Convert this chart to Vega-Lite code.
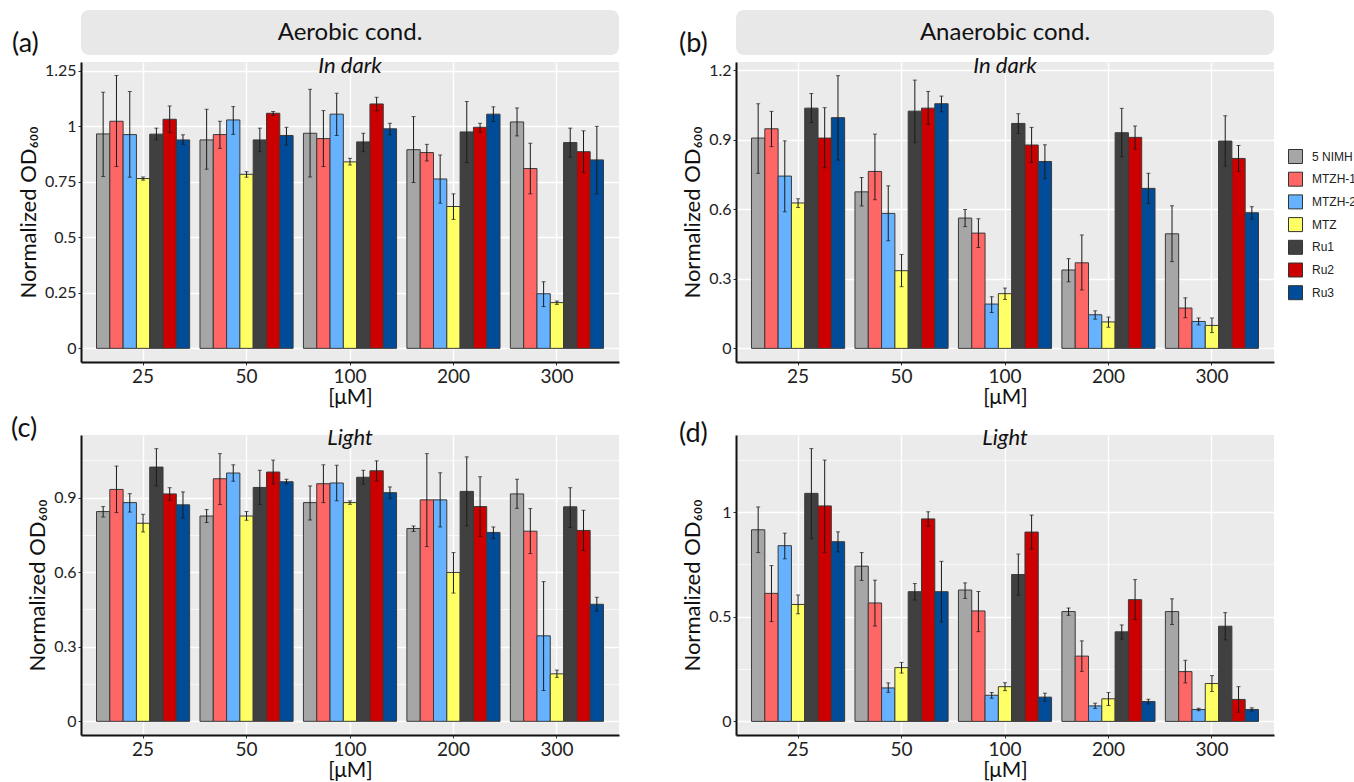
{
  "$schema": "https://vega.github.io/schema/vega-lite/v6.json",
  "background": "white",
  "padding": {"left": 11, "top": 10, "right": 2, "bottom": 2},
  "autosize": {"type": "pad"},
  "config": {"font": "Lato", "view": {"stroke": null}},
  "datasets": {
    "a": [
      {"c":"25","s":"5 NIMH","v":0.966,"lo":0.774,"hi":1.154},
      {"c":"25","s":"MTZH-1","v":1.023,"lo":0.819,"hi":1.229},
      {"c":"25","s":"MTZH-2","v":0.963,"lo":0.771,"hi":1.157},
      {"c":"25","s":"MTZ","v":0.765,"lo":0.758,"hi":0.772},
      {"c":"25","s":"Ru1","v":0.965,"lo":0.939,"hi":0.992},
      {"c":"25","s":"Ru2","v":1.032,"lo":0.972,"hi":1.092},
      {"c":"25","s":"Ru3","v":0.939,"lo":0.919,"hi":0.962},
      {"c":"50","s":"5 NIMH","v":0.939,"lo":0.807,"hi":1.077},
      {"c":"50","s":"MTZH-1","v":0.963,"lo":0.901,"hi":1.023},
      {"c":"50","s":"MTZH-2","v":1.029,"lo":0.964,"hi":1.089},
      {"c":"50","s":"MTZ","v":0.784,"lo":0.771,"hi":0.796},
      {"c":"50","s":"Ru1","v":0.939,"lo":0.886,"hi":0.992},
      {"c":"50","s":"Ru2","v":1.059,"lo":1.049,"hi":1.067},
      {"c":"50","s":"Ru3","v":0.959,"lo":0.916,"hi":0.996},
      {"c":"100","s":"5 NIMH","v":0.969,"lo":0.772,"hi":1.167},
      {"c":"100","s":"MTZH-1","v":0.945,"lo":0.819,"hi":1.071},
      {"c":"100","s":"MTZH-2","v":1.055,"lo":0.959,"hi":1.149},
      {"c":"100","s":"MTZ","v":0.840,"lo":0.826,"hi":0.856},
      {"c":"100","s":"Ru1","v":0.930,"lo":0.886,"hi":0.969},
      {"c":"100","s":"Ru2","v":1.101,"lo":1.070,"hi":1.131},
      {"c":"100","s":"Ru3","v":0.989,"lo":0.962,"hi":1.014},
      {"c":"200","s":"5 NIMH","v":0.895,"lo":0.747,"hi":1.044},
      {"c":"200","s":"MTZH-1","v":0.882,"lo":0.844,"hi":0.919},
      {"c":"200","s":"MTZH-2","v":0.763,"lo":0.654,"hi":0.871},
      {"c":"200","s":"MTZ","v":0.639,"lo":0.581,"hi":0.696},
      {"c":"200","s":"Ru1","v":0.975,"lo":0.837,"hi":1.112},
      {"c":"200","s":"Ru2","v":0.996,"lo":0.974,"hi":1.014},
      {"c":"200","s":"Ru3","v":1.055,"lo":1.022,"hi":1.088},
      {"c":"300","s":"5 NIMH","v":1.020,"lo":0.957,"hi":1.083},
      {"c":"300","s":"MTZH-1","v":0.810,"lo":0.696,"hi":0.924},
      {"c":"300","s":"MTZH-2","v":0.246,"lo":0.188,"hi":0.300},
      {"c":"300","s":"MTZ","v":0.206,"lo":0.198,"hi":0.213},
      {"c":"300","s":"Ru1","v":0.927,"lo":0.861,"hi":0.992},
      {"c":"300","s":"Ru2","v":0.886,"lo":0.792,"hi":0.980},
      {"c":"300","s":"Ru3","v":0.849,"lo":0.696,"hi":1.000}
    ],
    "b": [
      {"c":"25","s":"5 NIMH","v":0.907,"lo":0.755,"hi":1.055},
      {"c":"25","s":"MTZH-1","v":0.947,"lo":0.870,"hi":1.022},
      {"c":"25","s":"MTZH-2","v":0.743,"lo":0.589,"hi":0.895},
      {"c":"25","s":"MTZ","v":0.627,"lo":0.608,"hi":0.645},
      {"c":"25","s":"Ru1","v":1.036,"lo":0.974,"hi":1.099},
      {"c":"25","s":"Ru2","v":0.907,"lo":0.779,"hi":1.038},
      {"c":"25","s":"Ru3","v":0.995,"lo":0.812,"hi":1.176},
      {"c":"50","s":"5 NIMH","v":0.675,"lo":0.614,"hi":0.737},
      {"c":"50","s":"MTZH-1","v":0.763,"lo":0.641,"hi":0.924},
      {"c":"50","s":"MTZH-2","v":0.582,"lo":0.464,"hi":0.701},
      {"c":"50","s":"MTZ","v":0.335,"lo":0.266,"hi":0.405},
      {"c":"50","s":"Ru1","v":1.023,"lo":0.887,"hi":1.157},
      {"c":"50","s":"Ru2","v":1.036,"lo":0.966,"hi":1.108},
      {"c":"50","s":"Ru3","v":1.055,"lo":1.020,"hi":1.088},
      {"c":"100","s":"5 NIMH","v":0.562,"lo":0.525,"hi":0.599},
      {"c":"100","s":"MTZH-1","v":0.497,"lo":0.435,"hi":0.559},
      {"c":"100","s":"MTZH-2","v":0.191,"lo":0.155,"hi":0.223},
      {"c":"100","s":"MTZ","v":0.236,"lo":0.211,"hi":0.260},
      {"c":"100","s":"Ru1","v":0.970,"lo":0.927,"hi":1.012},
      {"c":"100","s":"Ru2","v":0.877,"lo":0.802,"hi":0.953},
      {"c":"100","s":"Ru3","v":0.806,"lo":0.733,"hi":0.878},
      {"c":"200","s":"5 NIMH","v":0.338,"lo":0.287,"hi":0.387},
      {"c":"200","s":"MTZH-1","v":0.369,"lo":0.252,"hi":0.489},
      {"c":"200","s":"MTZH-2","v":0.145,"lo":0.126,"hi":0.162},
      {"c":"200","s":"MTZ","v":0.114,"lo":0.091,"hi":0.135},
      {"c":"200","s":"Ru1","v":0.930,"lo":0.826,"hi":1.035},
      {"c":"200","s":"Ru2","v":0.910,"lo":0.859,"hi":0.959},
      {"c":"200","s":"Ru3","v":0.690,"lo":0.625,"hi":0.755},
      {"c":"300","s":"5 NIMH","v":0.494,"lo":0.374,"hi":0.615},
      {"c":"300","s":"MTZH-1","v":0.174,"lo":0.132,"hi":0.218},
      {"c":"300","s":"MTZH-2","v":0.116,"lo":0.101,"hi":0.131},
      {"c":"300","s":"MTZ","v":0.099,"lo":0.068,"hi":0.131},
      {"c":"300","s":"Ru1","v":0.894,"lo":0.786,"hi":1.003},
      {"c":"300","s":"Ru2","v":0.819,"lo":0.763,"hi":0.875},
      {"c":"300","s":"Ru3","v":0.585,"lo":0.558,"hi":0.611}
    ],
    "c": [
      {"c":"25","s":"5 NIMH","v":0.844,"lo":0.822,"hi":0.864},
      {"c":"25","s":"MTZH-1","v":0.933,"lo":0.840,"hi":1.027},
      {"c":"25","s":"MTZH-2","v":0.880,"lo":0.842,"hi":0.916},
      {"c":"25","s":"MTZ","v":0.797,"lo":0.762,"hi":0.833},
      {"c":"25","s":"Ru1","v":1.023,"lo":0.947,"hi":1.097},
      {"c":"25","s":"Ru2","v":0.915,"lo":0.889,"hi":0.940},
      {"c":"25","s":"Ru3","v":0.871,"lo":0.818,"hi":0.923},
      {"c":"50","s":"5 NIMH","v":0.826,"lo":0.800,"hi":0.852},
      {"c":"50","s":"MTZH-1","v":0.976,"lo":0.872,"hi":1.077},
      {"c":"50","s":"MTZH-2","v":0.999,"lo":0.966,"hi":1.032},
      {"c":"50","s":"MTZ","v":0.826,"lo":0.809,"hi":0.844},
      {"c":"50","s":"Ru1","v":0.941,"lo":0.872,"hi":1.010},
      {"c":"50","s":"Ru2","v":1.003,"lo":0.955,"hi":1.051},
      {"c":"50","s":"Ru3","v":0.964,"lo":0.955,"hi":0.974},
      {"c":"100","s":"5 NIMH","v":0.880,"lo":0.810,"hi":0.947},
      {"c":"100","s":"MTZH-1","v":0.956,"lo":0.880,"hi":1.032},
      {"c":"100","s":"MTZH-2","v":0.959,"lo":0.887,"hi":1.030},
      {"c":"100","s":"MTZ","v":0.880,"lo":0.873,"hi":0.887},
      {"c":"100","s":"Ru1","v":0.982,"lo":0.954,"hi":1.010},
      {"c":"100","s":"Ru2","v":1.008,"lo":0.967,"hi":1.048},
      {"c":"100","s":"Ru3","v":0.920,"lo":0.897,"hi":0.943},
      {"c":"200","s":"5 NIMH","v":0.776,"lo":0.764,"hi":0.786},
      {"c":"200","s":"MTZH-1","v":0.891,"lo":0.703,"hi":1.077},
      {"c":"200","s":"MTZH-2","v":0.891,"lo":0.782,"hi":1.000},
      {"c":"200","s":"MTZ","v":0.599,"lo":0.516,"hi":0.679},
      {"c":"200","s":"Ru1","v":0.925,"lo":0.786,"hi":1.064},
      {"c":"200","s":"Ru2","v":0.864,"lo":0.744,"hi":0.984},
      {"c":"200","s":"Ru3","v":0.760,"lo":0.735,"hi":0.782},
      {"c":"300","s":"5 NIMH","v":0.915,"lo":0.857,"hi":0.974},
      {"c":"300","s":"MTZH-1","v":0.765,"lo":0.675,"hi":0.856},
      {"c":"300","s":"MTZH-2","v":0.344,"lo":0.124,"hi":0.562},
      {"c":"300","s":"MTZ","v":0.191,"lo":0.177,"hi":0.206},
      {"c":"300","s":"Ru1","v":0.863,"lo":0.780,"hi":0.940},
      {"c":"300","s":"Ru2","v":0.768,"lo":0.687,"hi":0.849},
      {"c":"300","s":"Ru3","v":0.471,"lo":0.443,"hi":0.499}
    ],
    "d": [
      {"c":"25","s":"5 NIMH","v":0.916,"lo":0.807,"hi":1.025},
      {"c":"25","s":"MTZH-1","v":0.612,"lo":0.477,"hi":0.745},
      {"c":"25","s":"MTZH-2","v":0.840,"lo":0.777,"hi":0.900},
      {"c":"25","s":"MTZ","v":0.559,"lo":0.515,"hi":0.604},
      {"c":"25","s":"Ru1","v":1.090,"lo":0.873,"hi":1.304},
      {"c":"25","s":"Ru2","v":1.030,"lo":0.808,"hi":1.249},
      {"c":"25","s":"Ru3","v":0.859,"lo":0.810,"hi":0.906},
      {"c":"50","s":"5 NIMH","v":0.742,"lo":0.674,"hi":0.807},
      {"c":"50","s":"MTZH-1","v":0.566,"lo":0.456,"hi":0.675},
      {"c":"50","s":"MTZH-2","v":0.160,"lo":0.139,"hi":0.184},
      {"c":"50","s":"MTZ","v":0.257,"lo":0.231,"hi":0.282},
      {"c":"50","s":"Ru1","v":0.620,"lo":0.580,"hi":0.659},
      {"c":"50","s":"Ru2","v":0.968,"lo":0.933,"hi":1.002},
      {"c":"50","s":"Ru3","v":0.620,"lo":0.475,"hi":0.765},
      {"c":"100","s":"5 NIMH","v":0.628,"lo":0.588,"hi":0.662},
      {"c":"100","s":"MTZH-1","v":0.528,"lo":0.429,"hi":0.621},
      {"c":"100","s":"MTZH-2","v":0.125,"lo":0.111,"hi":0.138},
      {"c":"100","s":"MTZ","v":0.166,"lo":0.147,"hi":0.185},
      {"c":"100","s":"Ru1","v":0.702,"lo":0.604,"hi":0.800},
      {"c":"100","s":"Ru2","v":0.905,"lo":0.824,"hi":0.986},
      {"c":"100","s":"Ru3","v":0.116,"lo":0.097,"hi":0.135},
      {"c":"200","s":"5 NIMH","v":0.525,"lo":0.507,"hi":0.542},
      {"c":"200","s":"MTZH-1","v":0.312,"lo":0.239,"hi":0.385},
      {"c":"200","s":"MTZH-2","v":0.074,"lo":0.062,"hi":0.087},
      {"c":"200","s":"MTZ","v":0.108,"lo":0.076,"hi":0.138},
      {"c":"200","s":"Ru1","v":0.428,"lo":0.393,"hi":0.461},
      {"c":"200","s":"Ru2","v":0.582,"lo":0.487,"hi":0.678},
      {"c":"200","s":"Ru3","v":0.095,"lo":0.084,"hi":0.106},
      {"c":"300","s":"5 NIMH","v":0.525,"lo":0.463,"hi":0.586},
      {"c":"300","s":"MTZH-1","v":0.238,"lo":0.184,"hi":0.292},
      {"c":"300","s":"MTZH-2","v":0.057,"lo":0.051,"hi":0.063},
      {"c":"300","s":"MTZ","v":0.181,"lo":0.143,"hi":0.219},
      {"c":"300","s":"Ru1","v":0.455,"lo":0.390,"hi":0.520},
      {"c":"300","s":"Ru2","v":0.105,"lo":0.044,"hi":0.166},
      {"c":"300","s":"Ru3","v":0.057,"lo":0.049,"hi":0.065}
    ]
  },
  "bounds": "flush",
  "columns": 2,
  "spacing": {"row": 7, "column": 117},
  "resolve": {"legend": {"color": "independent"}},
  "concat": [
    {
      "width": 538, "height": 45,
      "view": {"fill": null, "stroke": null},
      "data": {"values": [{"t": "Aerobic cond.", "lab": "(a)"}]},
      "layer": [
        {"mark": {"type": "rect", "fill": "#E8E8E8", "cornerRadius": 8},
         "encoding": {
           "x": {"datum": 0, "type": "quantitative", "scale": {"domain": [0, 1], "nice": false, "zero": false}, "axis": null},
           "x2": {"datum": 1},
           "y": {"datum": 0, "type": "quantitative", "scale": {"domain": [0, 1], "nice": false, "zero": false}, "axis": null},
           "y2": {"datum": 1}}},
        {"mark": {"type": "text", "font": "Lato", "fontSize": 24, "color": "#111"},
         "encoding": {
           "text": {"field": "t"},
           "x": {"datum": 0.5, "type": "quantitative", "scale": {"domain": [0, 1], "nice": false, "zero": false}, "axis": null},
           "y": {"datum": 0.5, "type": "quantitative", "scale": {"domain": [0, 1], "nice": false, "zero": false}, "axis": null}}},
        {"mark": {"type": "text", "font": "Lato", "fontSize": 27, "align": "left", "baseline": "middle", "color": "#111"},
         "encoding": {
           "text": {"field": "lab"},
           "x": {"datum": -0.1283, "type": "quantitative", "scale": {"domain": [0, 1], "nice": false, "zero": false}, "axis": null},
           "y": {"datum": 0.24, "type": "quantitative", "scale": {"domain": [0, 1], "nice": false, "zero": false}, "axis": null}}}
      ]
    },
    {
      "width": 538, "height": 45,
      "view": {"fill": null, "stroke": null},
      "data": {"values": [{"t": "Anaerobic cond.", "lab": "(b)"}]},
      "layer": [
        {"mark": {"type": "rect", "fill": "#E8E8E8", "cornerRadius": 8},
         "encoding": {
           "x": {"datum": 0, "type": "quantitative", "scale": {"domain": [0, 1], "nice": false, "zero": false}, "axis": null},
           "x2": {"datum": 1},
           "y": {"datum": 0, "type": "quantitative", "scale": {"domain": [0, 1], "nice": false, "zero": false}, "axis": null},
           "y2": {"datum": 1}}},
        {"mark": {"type": "text", "font": "Lato", "fontSize": 24, "color": "#111"},
         "encoding": {
           "text": {"field": "t"},
           "x": {"datum": 0.5, "type": "quantitative", "scale": {"domain": [0, 1], "nice": false, "zero": false}, "axis": null},
           "y": {"datum": 0.5, "type": "quantitative", "scale": {"domain": [0, 1], "nice": false, "zero": false}, "axis": null}}},
        {"mark": {"type": "text", "font": "Lato", "fontSize": 27, "align": "left", "baseline": "middle", "color": "#111"},
         "encoding": {
           "text": {"field": "lab"},
           "x": {"datum": -0.106, "type": "quantitative", "scale": {"domain": [0, 1], "nice": false, "zero": false}, "axis": null},
           "y": {"datum": 0.24, "type": "quantitative", "scale": {"domain": [0, 1], "nice": false, "zero": false}, "axis": null}}}
      ]
    },
    {
      "width": 538, "height": 300,
      "view": {"fill": "#EBEBEB", "stroke": null},
      "data": {"name": "a"},
      "title": {"text": "In dark", "font": "Lato", "fontSize": 22, "fontStyle": "italic", "fontWeight": "normal", "color": "#111", "frame": "group", "anchor": "middle", "baseline": "alphabetic", "offset": -11, "dy": 22},
      "encoding": {
        "x": {"field": "c", "type": "ordinal", "sort": ["25","50","100","200","300"], "title": "[μM]",
              "scale": {"type": "band", "paddingInner": 0.1, "paddingOuter": 0.15},
              "axis": {"grid": true, "gridColor": "white", "gridWidth": 1.4, "bandPosition": 0.5, "labelAngle": 0, "labelFont": "Lato", "labelFontSize": 19, "labelColor": "#222", "labelPadding": 2, "tickSize": 3, "tickColor": "#333", "domainColor": "#111", "domainWidth": 2, "titleFont": "Lato", "titleFontSize": 21, "titleFontWeight": "normal", "titleColor": "#111", "titlePadding": 0}},
        "xOffset": {"field": "s", "type": "nominal", "sort": ["5 NIMH","MTZH-1","MTZH-2","MTZ","Ru1","Ru2","Ru3"], "scale": {"type": "band", "paddingInner": 0, "paddingOuter": 0}}
      },
      "layer": [
        {"mark": {"type": "bar", "stroke": "#3a3a3a", "strokeWidth": 1},
         "encoding": {
           "y": {"field": "v", "type": "quantitative", "title": "Normalized OD₆₀₀", "scale": {"domain": [-0.0615, 1.29], "nice": false, "zero": false},
                 "axis": {"values": [0,0.125,0.25,0.375,0.5,0.625,0.75,0.875,1,1.125,1.25],
                          "labelExpr": "indexof([0,0.25,0.5,0.75,1,1.25], datum.value) >= 0 ? format(datum.value, '~g') : ''",
                          "gridColor": "white",
                          "gridWidth": {"condition": {"test": "indexof([0,0.25,0.5,0.75,1,1.25], datum.value) >= 0", "value": 1.4}, "value": 0.7},
                          "tickOpacity": {"condition": {"test": "indexof([0,0.25,0.5,0.75,1,1.25], datum.value) >= 0", "value": 1}, "value": 0},
                          "labelFont": "Lato", "labelFontSize": 16, "labelColor": "#222", "labelPadding": 2, "tickSize": 3, "tickColor": "#333", "domainColor": "#111", "domainWidth": 2, "titleFont": "Lato", "titleFontSize": 22, "titleFontWeight": "normal", "titleColor": "#111"}},
           "color": {"field": "s", "type": "nominal", "scale": {"domain": ["5 NIMH","MTZH-1","MTZH-2","MTZ","Ru1","Ru2","Ru3"], "range": ["#A6A6A6","#FF6666","#66B2FF","#FFFF66","#404040","#CC0000","#004C99"]}, "legend": null}}},
        {"mark": {"type": "rule", "color": "#1a1a1a", "strokeWidth": 1},
         "encoding": {"y": {"field": "lo", "type": "quantitative", "title": "Normalized OD₆₀₀", "scale": {"domain": [-0.0615, 1.29], "nice": false, "zero": false}}, "y2": {"field": "hi"}}},
        {"mark": {"type": "tick", "color": "#1a1a1a", "thickness": 1, "size": 4},
         "encoding": {"y": {"field": "lo", "type": "quantitative", "title": "Normalized OD₆₀₀", "scale": {"domain": [-0.0615, 1.29], "nice": false, "zero": false}}}},
        {"mark": {"type": "tick", "color": "#1a1a1a", "thickness": 1, "size": 4},
         "encoding": {"y": {"field": "hi", "type": "quantitative", "title": "Normalized OD₆₀₀", "scale": {"domain": [-0.0615, 1.29], "nice": false, "zero": false}}}}
      ]
    },
    {
      "width": 538, "height": 300,
      "view": {"fill": "#EBEBEB", "stroke": null},
      "data": {"name": "b"},
      "title": {"text": "In dark", "font": "Lato", "fontSize": 22, "fontStyle": "italic", "fontWeight": "normal", "color": "#111", "frame": "group", "anchor": "middle", "baseline": "alphabetic", "offset": -11, "dy": 22},
      "encoding": {
        "x": {"field": "c", "type": "ordinal", "sort": ["25","50","100","200","300"], "title": "[μM]",
              "scale": {"type": "band", "paddingInner": 0.1, "paddingOuter": 0.15},
              "axis": {"grid": true, "gridColor": "white", "gridWidth": 1.4, "bandPosition": 0.5, "labelAngle": 0, "labelFont": "Lato", "labelFontSize": 19, "labelColor": "#222", "labelPadding": 2, "tickSize": 3, "tickColor": "#333", "domainColor": "#111", "domainWidth": 2, "titleFont": "Lato", "titleFontSize": 21, "titleFontWeight": "normal", "titleColor": "#111", "titlePadding": 0}},
        "xOffset": {"field": "s", "type": "nominal", "sort": ["5 NIMH","MTZH-1","MTZH-2","MTZ","Ru1","Ru2","Ru3"], "scale": {"type": "band", "paddingInner": 0, "paddingOuter": 0}}
      },
      "layer": [
        {"mark": {"type": "bar", "stroke": "#3a3a3a", "strokeWidth": 1},
         "encoding": {
           "y": {"field": "v", "type": "quantitative", "title": "Normalized OD₆₀₀", "scale": {"domain": [-0.0588, 1.235], "nice": false, "zero": false},
                 "axis": {"values": [0,0.15,0.3,0.45,0.6,0.75,0.9,1.05,1.2],
                          "labelExpr": "indexof([0,0.3,0.6,0.9,1.2], datum.value) >= 0 ? format(datum.value, '~g') : ''",
                          "gridColor": "white",
                          "gridWidth": {"condition": {"test": "indexof([0,0.3,0.6,0.9,1.2], datum.value) >= 0", "value": 1.4}, "value": 0.7},
                          "tickOpacity": {"condition": {"test": "indexof([0,0.3,0.6,0.9,1.2], datum.value) >= 0", "value": 1}, "value": 0},
                          "labelFont": "Lato", "labelFontSize": 16, "labelColor": "#222", "labelPadding": 2, "tickSize": 3, "tickColor": "#333", "domainColor": "#111", "domainWidth": 2, "titleFont": "Lato", "titleFontSize": 22, "titleFontWeight": "normal", "titleColor": "#111"}},
           "color": {"field": "s", "type": "nominal", "scale": {"domain": ["5 NIMH","MTZH-1","MTZH-2","MTZ","Ru1","Ru2","Ru3"], "range": ["#A6A6A6","#FF6666","#66B2FF","#FFFF66","#404040","#CC0000","#004C99"]},
                     "legend": {"orient": "none", "legendX": 552, "legendY": 87, "title": null, "symbolType": "square", "symbolSize": 196, "symbolStrokeColor": "#333", "symbolStrokeWidth": 1, "symbolOpacity": 1, "labelFont": "Liberation Sans", "labelFontSize": 12, "labelColor": "#222", "rowPadding": 3.7, "labelOffset": 9}}}},
        {"mark": {"type": "rule", "color": "#1a1a1a", "strokeWidth": 1},
         "encoding": {"y": {"field": "lo", "type": "quantitative", "title": "Normalized OD₆₀₀", "scale": {"domain": [-0.0588, 1.235], "nice": false, "zero": false}}, "y2": {"field": "hi"}}},
        {"mark": {"type": "tick", "color": "#1a1a1a", "thickness": 1, "size": 4},
         "encoding": {"y": {"field": "lo", "type": "quantitative", "title": "Normalized OD₆₀₀", "scale": {"domain": [-0.0588, 1.235], "nice": false, "zero": false}}}},
        {"mark": {"type": "tick", "color": "#1a1a1a", "thickness": 1, "size": 4},
         "encoding": {"y": {"field": "hi", "type": "quantitative", "title": "Normalized OD₆₀₀", "scale": {"domain": [-0.0588, 1.235], "nice": false, "zero": false}}}}
      ]
    },
    {
      "width": 538, "height": 59,
      "view": {"fill": null, "stroke": null},
      "data": {"values": [{"lab": "(c)"}]},
      "mark": {"type": "text", "font": "Lato", "fontSize": 27, "align": "left", "baseline": "middle", "color": "#111"},
      "encoding": {
        "text": {"field": "lab"},
        "x": {"datum": -0.13, "type": "quantitative", "scale": {"domain": [0, 1], "nice": false, "zero": false}, "axis": null},
        "y": {"datum": -0.02, "type": "quantitative", "scale": {"domain": [0, 1], "nice": false, "zero": false}, "axis": null}}
    },
    {
      "width": 538, "height": 59,
      "view": {"fill": null, "stroke": null},
      "data": {"values": [{"lab": "(d)"}]},
      "mark": {"type": "text", "font": "Lato", "fontSize": 27, "align": "left", "baseline": "middle", "color": "#111"},
      "encoding": {
        "text": {"field": "lab"},
        "x": {"datum": -0.106, "type": "quantitative", "scale": {"domain": [0, 1], "nice": false, "zero": false}, "axis": null},
        "y": {"datum": -0.1, "type": "quantitative", "scale": {"domain": [0, 1], "nice": false, "zero": false}, "axis": null}}
    },
    {
      "width": 538, "height": 300,
      "view": {"fill": "#EBEBEB", "stroke": null},
      "data": {"name": "c"},
      "title": {"text": "Light", "font": "Lato", "fontSize": 22, "fontStyle": "italic", "fontWeight": "normal", "color": "#111", "frame": "group", "anchor": "middle", "baseline": "alphabetic", "offset": -11, "dy": 21},
      "encoding": {
        "x": {"field": "c", "type": "ordinal", "sort": ["25","50","100","200","300"], "title": "[μM]",
              "scale": {"type": "band", "paddingInner": 0.1, "paddingOuter": 0.15},
              "axis": {"grid": true, "gridColor": "white", "gridWidth": 1.4, "bandPosition": 0.5, "labelAngle": 0, "labelFont": "Lato", "labelFontSize": 19, "labelColor": "#222", "labelPadding": 2, "tickSize": 3, "tickColor": "#333", "domainColor": "#111", "domainWidth": 2, "titleFont": "Lato", "titleFontSize": 21, "titleFontWeight": "normal", "titleColor": "#111", "titlePadding": 0}},
        "xOffset": {"field": "s", "type": "nominal", "sort": ["5 NIMH","MTZH-1","MTZH-2","MTZ","Ru1","Ru2","Ru3"], "scale": {"type": "band", "paddingInner": 0, "paddingOuter": 0}}
      },
      "layer": [
        {"mark": {"type": "bar", "stroke": "#3a3a3a", "strokeWidth": 1},
         "encoding": {
           "y": {"field": "v", "type": "quantitative", "title": "Normalized OD₆₀₀", "scale": {"domain": [-0.055, 1.152], "nice": false, "zero": false},
                 "axis": {"values": [0,0.15,0.3,0.45,0.6,0.75,0.9,1.05],
                          "labelExpr": "indexof([0,0.3,0.6,0.9], datum.value) >= 0 ? format(datum.value, '~g') : ''",
                          "gridColor": "white",
                          "gridWidth": {"condition": {"test": "indexof([0,0.3,0.6,0.9], datum.value) >= 0", "value": 1.4}, "value": 0.7},
                          "tickOpacity": {"condition": {"test": "indexof([0,0.3,0.6,0.9], datum.value) >= 0", "value": 1}, "value": 0},
                          "labelFont": "Lato", "labelFontSize": 16, "labelColor": "#222", "labelPadding": 2, "tickSize": 3, "tickColor": "#333", "domainColor": "#111", "domainWidth": 2, "titleFont": "Lato", "titleFontSize": 22, "titleFontWeight": "normal", "titleColor": "#111"}},
           "color": {"field": "s", "type": "nominal", "scale": {"domain": ["5 NIMH","MTZH-1","MTZH-2","MTZ","Ru1","Ru2","Ru3"], "range": ["#A6A6A6","#FF6666","#66B2FF","#FFFF66","#404040","#CC0000","#004C99"]}, "legend": null}}},
        {"mark": {"type": "rule", "color": "#1a1a1a", "strokeWidth": 1},
         "encoding": {"y": {"field": "lo", "type": "quantitative", "title": "Normalized OD₆₀₀", "scale": {"domain": [-0.055, 1.152], "nice": false, "zero": false}}, "y2": {"field": "hi"}}},
        {"mark": {"type": "tick", "color": "#1a1a1a", "thickness": 1, "size": 4},
         "encoding": {"y": {"field": "lo", "type": "quantitative", "title": "Normalized OD₆₀₀", "scale": {"domain": [-0.055, 1.152], "nice": false, "zero": false}}}},
        {"mark": {"type": "tick", "color": "#1a1a1a", "thickness": 1, "size": 4},
         "encoding": {"y": {"field": "hi", "type": "quantitative", "title": "Normalized OD₆₀₀", "scale": {"domain": [-0.055, 1.152], "nice": false, "zero": false}}}}
      ]
    },
    {
      "width": 538, "height": 300,
      "view": {"fill": "#EBEBEB", "stroke": null},
      "data": {"name": "d"},
      "title": {"text": "Light", "font": "Lato", "fontSize": 22, "fontStyle": "italic", "fontWeight": "normal", "color": "#111", "frame": "group", "anchor": "middle", "baseline": "alphabetic", "offset": -11, "dy": 21},
      "encoding": {
        "x": {"field": "c", "type": "ordinal", "sort": ["25","50","100","200","300"], "title": "[μM]",
              "scale": {"type": "band", "paddingInner": 0.1, "paddingOuter": 0.15},
              "axis": {"grid": true, "gridColor": "white", "gridWidth": 1.4, "bandPosition": 0.5, "labelAngle": 0, "labelFont": "Lato", "labelFontSize": 19, "labelColor": "#222", "labelPadding": 2, "tickSize": 3, "tickColor": "#333", "domainColor": "#111", "domainWidth": 2, "titleFont": "Lato", "titleFontSize": 21, "titleFontWeight": "normal", "titleColor": "#111", "titlePadding": 0}},
        "xOffset": {"field": "s", "type": "nominal", "sort": ["5 NIMH","MTZH-1","MTZH-2","MTZ","Ru1","Ru2","Ru3"], "scale": {"type": "band", "paddingInner": 0, "paddingOuter": 0}}
      },
      "layer": [
        {"mark": {"type": "bar", "stroke": "#3a3a3a", "strokeWidth": 1},
         "encoding": {
           "y": {"field": "v", "type": "quantitative", "title": "Normalized OD₆₀₀", "scale": {"domain": [-0.065, 1.369], "nice": false, "zero": false},
                 "axis": {"values": [0,0.25,0.5,0.75,1,1.25],
                          "labelExpr": "indexof([0,0.5,1], datum.value) >= 0 ? format(datum.value, '~g') : ''",
                          "gridColor": "white",
                          "gridWidth": {"condition": {"test": "indexof([0,0.5,1], datum.value) >= 0", "value": 1.4}, "value": 0.7},
                          "tickOpacity": {"condition": {"test": "indexof([0,0.5,1], datum.value) >= 0", "value": 1}, "value": 0},
                          "labelFont": "Lato", "labelFontSize": 16, "labelColor": "#222", "labelPadding": 2, "tickSize": 3, "tickColor": "#333", "domainColor": "#111", "domainWidth": 2, "titleFont": "Lato", "titleFontSize": 22, "titleFontWeight": "normal", "titleColor": "#111"}},
           "color": {"field": "s", "type": "nominal", "scale": {"domain": ["5 NIMH","MTZH-1","MTZH-2","MTZ","Ru1","Ru2","Ru3"], "range": ["#A6A6A6","#FF6666","#66B2FF","#FFFF66","#404040","#CC0000","#004C99"]}, "legend": null}}},
        {"mark": {"type": "rule", "color": "#1a1a1a", "strokeWidth": 1},
         "encoding": {"y": {"field": "lo", "type": "quantitative", "title": "Normalized OD₆₀₀", "scale": {"domain": [-0.065, 1.369], "nice": false, "zero": false}}, "y2": {"field": "hi"}}},
        {"mark": {"type": "tick", "color": "#1a1a1a", "thickness": 1, "size": 4},
         "encoding": {"y": {"field": "lo", "type": "quantitative", "title": "Normalized OD₆₀₀", "scale": {"domain": [-0.065, 1.369], "nice": false, "zero": false}}}},
        {"mark": {"type": "tick", "color": "#1a1a1a", "thickness": 1, "size": 4},
         "encoding": {"y": {"field": "hi", "type": "quantitative", "title": "Normalized OD₆₀₀", "scale": {"domain": [-0.065, 1.369], "nice": false, "zero": false}}}}
      ]
    }
  ]
}
